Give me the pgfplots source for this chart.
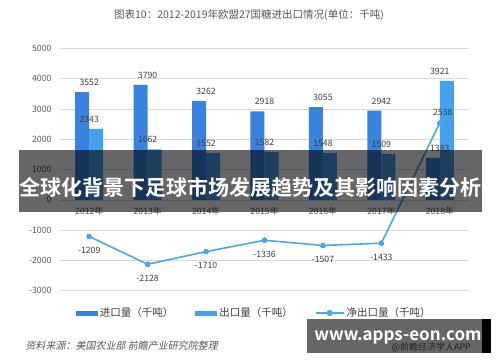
\documentclass[border=0pt]{standalone}
\usepackage{pgfplots}
\pgfplotsset{compat=1.18}
\usepackage{fontspec}
\setmainfont{Noto Sans CJK SC}
\newfontfamily\cjkit{Noto Sans CJK SC}[FakeSlant=0.2]
\newfontfamily\cjkbold{Noto Sans CJK SC Bold}
\definecolor{imp}{HTML}{3A82E0}
\definecolor{exq}{HTML}{46A0EC}
\definecolor{net}{HTML}{4AA8EE}
\definecolor{txt}{HTML}{595959}
\definecolor{lbl}{HTML}{404040}
\definecolor{grd}{HTML}{D9D9D9}
\begin{document}
\begin{tikzpicture}[x=1pt,y=1pt]
\fill[white] (0,0) rectangle (500,362);
\useasboundingbox (0,0) rectangle (500,362);
\node[text=txt, font=\fontsize{10.5}{12}\selectfont] at (249,347) {图表10：2012-2019年欧盟27国糖进出口情况(单位：千吨)};
\begin{axis}[
  at={(60pt,71.3pt)}, anchor=south west,
  scale only axis, width=409pt, height=242.4pt,
  xmin=-0.5, xmax=6.5, ymin=-3000, ymax=5000,
  axis x line=middle, axis y line=left,
  x axis line style={-, draw=grd, line width=0.6pt},
  y axis line style={draw=none},
  xtick={0,...,6},
  xticklabels={2012年,2013年,2014年,2015年,2016年,2017年,2018年},
  ytick={-3000,-2000,...,5000},
  ymajorgrids, grid style={grd, line width=0.6pt},
  major tick length=0pt, tick style={draw=none},
  /pgf/number format/assume math mode=true,
  /pgf/number format/1000 sep={},
  tick label style={font=\fontsize{8.7}{10}\selectfont, text=txt},
  yticklabel style={xshift=-5pt},
  xticklabel style={yshift=-4pt},
  legend style={at={(0.475,-0.092)}, anchor=center, draw=none, fill=none,
    legend columns=3, font=\fontsize{10.5}{12}\selectfont, text=lbl,
    /tikz/every even column/.append style={column sep=20pt},
    /tikz/every odd column/.append style={column sep=0pt}},
  legend cell align=left,
  clip=false,
]
\addplot[ybar, bar width=14pt, bar shift=-7pt, fill=imp, draw=none,
  nodes near coords, nodes near coords style={font=\fontsize{8.7}{10}\selectfont, text=lbl, yshift=3pt},
  legend image code/.code={\fill[imp] (0pt,-2.5pt) rectangle (22pt,2.5pt);}]
  coordinates {(0,3552) (1,3790) (2,3262) (3,2918) (4,3055) (5,2942) (6,1383)};
\addlegendentry{进口量（千吨）}
\addplot[ybar, bar width=14pt, bar shift=7pt, fill=exq, draw=none,
  nodes near coords, nodes near coords style={font=\fontsize{8.7}{10}\selectfont, text=lbl, yshift=3pt},
  legend image code/.code={\fill[exq] (0pt,-2.5pt) rectangle (22pt,2.5pt);}]
  coordinates {(0,2343) (1,1662) (2,1552) (3,1582) (4,1548) (5,1509) (6,3921)};
\addlegendentry{出口量（千吨）}
\addplot[net, line width=1.6pt, mark=*, mark size=2.3pt, mark options={fill=net, draw=net, line width=0pt},
  legend image code/.code={\draw[net, line width=1.6pt] (0pt,0pt) -- (28pt,0pt); \fill[net] (14pt,0pt) circle (2.3pt);}]
  coordinates {(0,-1209) (1,-2128) (2,-1710) (3,-1336) (4,-1507) (5,-1433) (6,2538)};
\addlegendentry{净出口量（千吨）}
\addplot[draw=none, mark=none, forget plot,
  nodes near coords, nodes near coords style={font=\fontsize{8.7}{10}\selectfont, text=lbl, anchor=north, yshift=-7pt}]
  coordinates {(0,-1209) (1,-2128) (2,-1710) (3,-1336) (4,-1507) (5,-1433)};
\addplot[draw=none, mark=none, forget plot,
  nodes near coords, nodes near coords style={font=\fontsize{8.7}{10}\selectfont, text=lbl, anchor=south, yshift=4pt, xshift=3pt}]
  coordinates {(6,2538)};
\end{axis}
\node[anchor=west, text=txt, font=\cjkit\fontsize{10}{11}\selectfont] at (22,16) {资料来源：美国农业部 前瞻产业研究院整理};
\node[anchor=west, text=txt, font=\fontsize{9}{11}\selectfont] at (388,15) {@前瞻经济学人APP};
% overlay banners
\fill[black, opacity=0.6] (19,149.7) rectangle (481.7,212);
\node[text=white, font=\cjkbold\fontsize{21}{24}\selectfont] at (250,175) {全球化背景下足球市场发展趋势及其影响因素分析};
\fill[black, opacity=0.6] (307,9.3) rectangle (481.7,43);
\fill[black] (481.7,9.3) rectangle (490.5,43);
\node[text=white, font=\cjkbold\fontsize{17}{20}\selectfont] at (398,25) {www.apps-eon.com};
\end{tikzpicture}
\end{document}
